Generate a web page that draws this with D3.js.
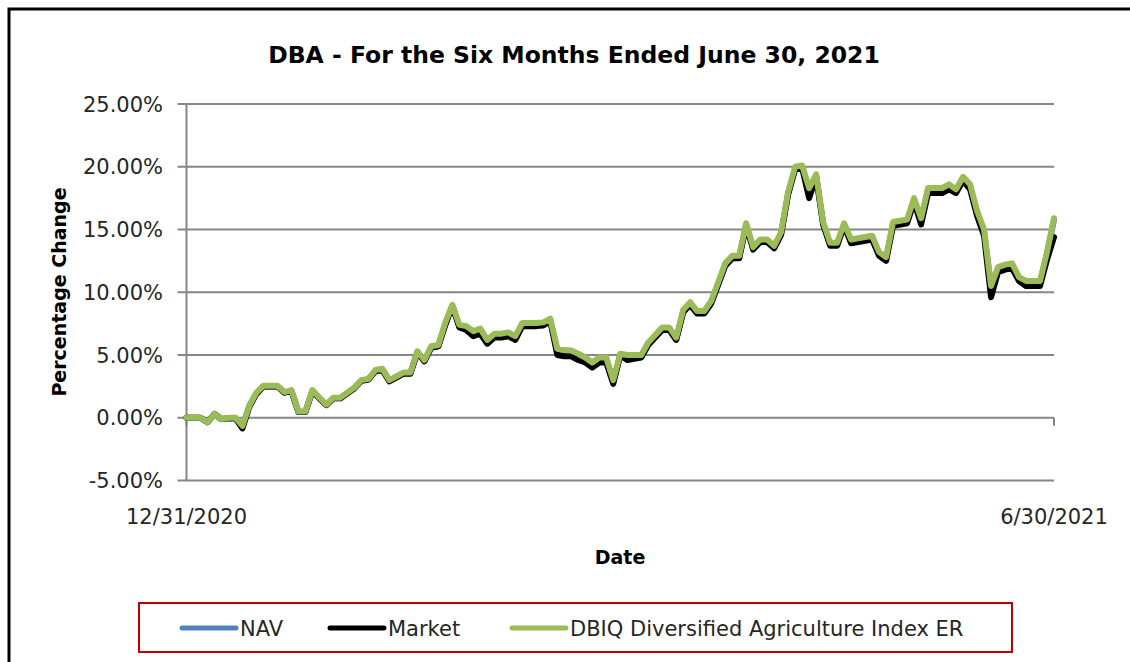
<!DOCTYPE html>
<html lang="en">
<head>
    <meta charset="UTF-8">
    <title>DBA - For the Six Months Ended June 30, 2021</title>
    <script src="https://d3js.org/d3.v7.min.js"></script>
    <style>
        body {
            margin: 0;
            padding: 0;
            background: #fff;
            font-family: "DejaVu Sans", sans-serif;
        }

        .grid line {
            stroke: #868686;
            stroke-width: 2px;
        }

        .tick-label {
            font-size: 21px;
            fill: #262626;
        }

        .series {
            fill: none;
            stroke-width: 6px;
            stroke-linejoin: round;
            stroke-linecap: round;
        }
    </style>
</head>
<body>
    <script>
        // trading days from 12/31/2020 to 6/30/2021
        const holidays = ["2021-01-01", "2021-01-18", "2021-02-15", "2021-04-02", "2021-05-31"];
        const dates = [];
        for (let d = new Date(Date.UTC(2020, 11, 31)); d <= new Date(Date.UTC(2021, 5, 30)); d.setUTCDate(d.getUTCDate() + 1)) {
            const iso = d.toISOString().slice(0, 10);
            const wd = d.getUTCDay();
            if (wd === 0 || wd === 6 || holidays.includes(iso)) continue;
            dates.push(iso);
        }

        const xTickLabels = ["12/31/2020", "6/30/2021"];
        const yTicks = [-5, 0, 5, 10, 15, 20, 25];

        // percentage change
        const nav = [
            0.00, 0.00, 0.00, -0.35, 0.28, -0.12, -0.02, -0.02, -0.70, 0.95,
            1.95, 2.50, 2.50, 2.50, 2.00, 2.15, 0.45, 0.45, 2.15, 1.55,
            1.00, 1.55, 1.55, 1.95, 2.35, 2.95, 3.05, 3.75, 3.85, 2.95,
            3.25, 3.55, 3.55, 5.25, 4.50, 5.60, 5.70, 7.45, 8.90, 7.25,
            7.15, 6.75, 6.95, 6.05, 6.55, 6.55, 6.65, 6.35, 7.40, 7.40,
            7.40, 7.45, 7.75, 5.35, 5.25, 5.20, 4.95, 4.65, 4.25, 4.65,
            4.65, 2.85, 4.95, 4.85, 4.85, 4.85, 5.85, 6.45, 7.05, 7.05,
            6.25, 8.45, 9.05, 8.35, 8.35, 9.15, 10.65, 12.15, 12.75, 12.75,
            15.35, 13.45, 14.05, 14.05, 13.55, 14.65, 17.85, 19.85, 19.95, 18.15,
            19.25, 15.45, 13.80, 13.80, 15.35, 14.05, 14.15, 14.25, 14.35, 13.05,
            12.65, 15.45, 15.55, 15.65, 17.35, 15.75, 18.15, 18.15, 18.15, 18.45,
            18.05, 19.05, 18.45, 16.35, 14.85, 10.35, 11.85, 12.05, 12.15, 11.05,
            10.75, 10.75, 10.75, 13.05, 15.75
        ];

        const market = [
            0.00, 0.00, 0.00, -0.35, 0.30, -0.10, -0.05, -0.05, -0.85, 0.90,
            1.90, 2.50, 2.50, 2.50, 2.00, 2.10, 0.45, 0.45, 2.10, 1.55,
            1.00, 1.55, 1.55, 1.95, 2.35, 2.95, 3.05, 3.70, 3.80, 2.90,
            3.20, 3.50, 3.50, 5.20, 4.50, 5.60, 5.70, 7.40, 8.90, 7.20,
            7.00, 6.50, 6.70, 5.90, 6.40, 6.40, 6.50, 6.20, 7.30, 7.30,
            7.30, 7.35, 7.70, 5.00, 4.90, 4.90, 4.60, 4.40, 4.00, 4.40,
            4.40, 2.70, 5.00, 4.60, 4.70, 4.80, 5.80, 6.40, 7.00, 7.00,
            6.20, 8.40, 9.00, 8.30, 8.30, 9.10, 10.60, 12.10, 12.70, 12.70,
            15.30, 13.40, 14.00, 14.00, 13.50, 14.60, 17.80, 19.80, 19.90, 17.50,
            19.20, 15.40, 13.70, 13.70, 15.30, 13.90, 14.00, 14.10, 14.20, 12.90,
            12.50, 15.30, 15.40, 15.50, 17.20, 15.40, 17.90, 17.90, 17.90, 18.20,
            17.90, 18.90, 18.20, 16.10, 14.50, 9.60, 11.60, 11.80, 11.90, 10.90,
            10.50, 10.50, 10.50, 12.60, 14.40
        ];

        const indexER = [
            0.00, 0.00, 0.00, -0.35, 0.30, -0.10, 0.00, 0.00, -0.65, 1.00,
            2.00, 2.55, 2.55, 2.55, 2.05, 2.20, 0.50, 0.50, 2.20, 1.60,
            1.05, 1.60, 1.60, 2.00, 2.40, 3.00, 3.10, 3.80, 3.90, 3.00,
            3.30, 3.60, 3.60, 5.30, 4.60, 5.70, 5.80, 7.60, 9.00, 7.40,
            7.30, 6.90, 7.10, 6.20, 6.70, 6.70, 6.80, 6.50, 7.55, 7.55,
            7.55, 7.60, 7.90, 5.50, 5.40, 5.35, 5.10, 4.80, 4.40, 4.80,
            4.80, 3.00, 5.10, 5.00, 5.00, 5.00, 6.00, 6.60, 7.20, 7.20,
            6.40, 8.60, 9.20, 8.50, 8.50, 9.30, 10.80, 12.30, 12.90, 12.90,
            15.50, 13.60, 14.20, 14.20, 13.70, 14.80, 18.00, 20.00, 20.10, 18.30,
            19.40, 15.60, 13.95, 13.95, 15.50, 14.20, 14.30, 14.40, 14.50, 13.20,
            12.80, 15.60, 15.70, 15.80, 17.50, 15.90, 18.30, 18.30, 18.30, 18.60,
            18.20, 19.20, 18.60, 16.50, 15.00, 10.50, 12.00, 12.20, 12.30, 11.20,
            10.90, 10.90, 10.90, 13.20, 15.90
        ];

        const seriesNames = ["NAV", "Market", "DBIQ Diversified Agriculture Index ER"];
        const seriesColors = ["#4f81bd", "#000000", "#9bbb59"];

        const width = 1130, height = 662;
        const plot = { left: 186.5, right: 1054, top: 104, bottom: 480.5 };

        const svg = d3.select("body").append("svg")
            .attr("width", width)
            .attr("height", height);

        // outer frame (left and top edge show in the picture)
        svg.append("path")
            .attr("d", `M9,${height} L9,9 L${width},9`)
            .attr("fill", "none")
            .attr("stroke", "#000")
            .attr("stroke-width", 3);

        const x = d3.scalePoint()
            .domain(dates)
            .range([plot.left, plot.right]);

        const y = d3.scaleLinear()
            .domain([-5, 25])
            .range([plot.bottom, plot.top]);

        // gridlines with left tick marks
        const grid = svg.append("g").attr("class", "grid");
        grid.selectAll(".h")
            .data(yTicks)
            .enter()
            .append("line")
            .attr("x1", plot.left - 9)
            .attr("x2", plot.right)
            .attr("y1", d => y(d))
            .attr("y2", d => y(d));

        // vertical axis
        grid.append("line")
            .attr("x1", plot.left).attr("x2", plot.left)
            .attr("y1", plot.top).attr("y2", plot.bottom);

        // category axis sits at 0%, tick marks at both ends
        grid.selectAll(".xt")
            .data([dates[0], dates[dates.length - 1]])
            .enter()
            .append("line")
            .attr("x1", d => x(d)).attr("x2", d => x(d))
            .attr("y1", y(0)).attr("y2", y(0) + 8);

        const pct = d3.format(".2f");
        svg.selectAll(".ylab")
            .data(yTicks)
            .enter()
            .append("text")
            .attr("class", "tick-label")
            .attr("x", 163)
            .attr("y", d => y(d) + 7.5)
            .attr("text-anchor", "end")
            .text(d => pct(d).replace("\u2212", "-") + "%");

        svg.selectAll(".xlab")
            .data([dates[0], dates[dates.length - 1]])
            .enter()
            .append("text")
            .attr("class", "tick-label")
            .attr("x", d => x(d))
            .attr("y", 524)
            .attr("text-anchor", "middle")
            .text((d, i) => xTickLabels[i]);

        // lines
        const line = d3.line()
            .x((d, i) => x(dates[i]))
            .y(d => y(d));

        svg.selectAll(".series")
            .data([nav, market, indexER])
            .enter()
            .append("path")
            .attr("class", "series")
            .attr("stroke", (d, i) => seriesColors[i])
            .attr("d", line);

        // titles
        svg.append("text")
            .attr("x", 574)
            .attr("y", 63)
            .attr("text-anchor", "middle")
            .attr("font-size", 23.5)
            .attr("font-weight", "bold")
            .attr("fill", "#000")
            .text("DBA - For the Six Months Ended June 30, 2021");

        svg.append("text")
            .attr("transform", "translate(66,292) rotate(-90)")
            .attr("text-anchor", "middle")
            .attr("font-size", 19)
            .attr("font-weight", "bold")
            .attr("fill", "#000")
            .text("Percentage Change");

        svg.append("text")
            .attr("x", 620)
            .attr("y", 564)
            .attr("text-anchor", "middle")
            .attr("font-size", 19)
            .attr("font-weight", "bold")
            .attr("fill", "#000")
            .text("Date");

        // legend
        const legend = svg.append("g");
        legend.append("rect")
            .attr("x", 139)
            .attr("y", 603)
            .attr("width", 873)
            .attr("height", 49)
            .attr("fill", "none")
            .attr("stroke", "#c00000")
            .attr("stroke-width", 2);

        const legendX = [180, 328, 510];
        const item = legend.selectAll(".item")
            .data(seriesNames)
            .enter()
            .append("g")
            .attr("transform", (d, i) => `translate(${legendX[i]},628)`);

        item.append("line")
            .attr("x1", 2).attr("x2", 56)
            .attr("stroke", (d, i) => seriesColors[i])
            .attr("stroke-width", 5)
            .attr("stroke-linecap", "round");

        item.append("text")
            .attr("class", "tick-label")
            .attr("x", 60)
            .attr("y", 8)
            .text(d => d);
    </script>
</body>
</html>
